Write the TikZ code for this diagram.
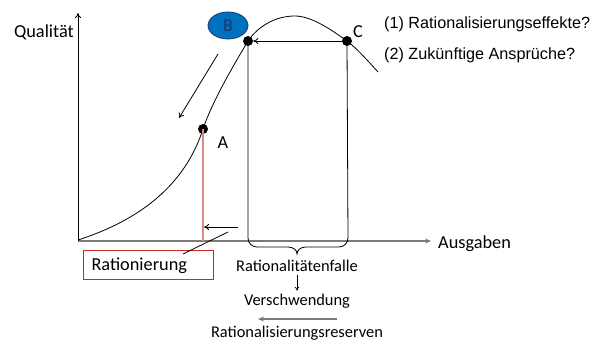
\documentclass[tikz,border=0pt]{standalone}
\usepackage{fontspec}
\setmainfont{Carlito}
\newfontfamily\arialf{Liberation Sans}
\usetikzlibrary{shapes.geometric,arrows.meta}
\definecolor{bblue}{HTML}{0070C0}
\definecolor{bborder}{HTML}{1F3864}
\definecolor{boxred}{HTML}{C82828}
\definecolor{pinkred}{HTML}{D88A8A}
\definecolor{axgray}{HTML}{7A7A7A}
\tikzset{
  dotpt/.style={circle,fill=black,inner sep=0pt,minimum size=10pt},
  lbl/.style={font=\fontsize{18.3}{20}\selectfont,inner sep=0pt},
  smalllbl/.style={font=\fontsize{16.4}{18}\selectfont,inner sep=0pt},
  qlbl/.style={font=\arialf\fontsize{16.2}{19}\selectfont,inner sep=0pt,anchor=west},
  arr/.style={-{To[length=5pt,width=6pt]},line width=0.8pt},
  thin line/.style={line width=0.8pt},
}
\begin{document}
\begin{tikzpicture}[x=1pt,y=-1pt]
\useasboundingbox (0,0) rectangle (606,342);
% axes
\coordinate (O) at (78,241);
\coordinate (ytop) at (78,13);
\coordinate (xend) at (431,241);
\draw[axgray,line width=1.6pt,-{Stealth[length=6pt,width=5pt]}] (O) -- (xend);
\draw[line width=0.8pt,-{To[length=5pt,width=6pt]}] (O) -- (ytop);
\node[lbl,anchor=east] (ql) at (74,32) {Qualität};
\node[lbl,anchor=west] (aus) at (438,244) {Ausgaben};
% points
\node[dotpt] (P) at (248,41) {};
\node[dotpt] (C) at (347,41) {};
\node[dotpt] (A) at (203,129) {};
% curve
\draw[thin line] (78,240) .. controls (140,220) and (185,185) .. (A.center)
  .. controls (213,99) and (238,58) .. (P.center)
  .. controls (258,26.5) and (275,16) .. (295,16)
  .. controls (312,16) and (333,31) .. (C.center)
  .. controls (357,48.5) and (368,61) .. (378,72);
% vertical lines + brace
\draw[thin line] (P.center) -- (248,238) to[out=-90,in=180] (257,247) -- (288,247) to[out=0,in=90] (297,254) to[out=90,in=180] (306,247) -- (339,247) to[out=0,in=-90] (348,238) -- (C.center);
% arrow C -> P
\draw[arr] (C) -- (P);
% B ellipse
\node[ellipse,draw=bborder,fill=bblue,line width=0.8pt,minimum width=40pt,minimum height=27pt,inner sep=0pt,text=bborder,font=\fontsize{18}{20}\selectfont] (B) at (228,25.5) {B};
% diagonal arrow
\coordinate (d1) at (218,54);
\coordinate (d2) at (179,118);
\draw[arr] (d1) -- (d2);
% labels
\node[lbl] (Al) at (223,143) {A};
\node[lbl] (Cl) at (358,32) {C};
% red line
\draw[pinkred,line width=1.4pt] (A.center) -- (A.center |- O);
% small arrow
\coordinate (s1) at (238,227);
\coordinate (s2) at (204,227);
\draw[arr] (s1) -- (s2);
% Rationierung box
\node[draw=boxred,line width=1pt,anchor=west,text width=114pt,inner xsep=8pt,inner ysep=0pt,align=left,minimum height=29pt,font=\fontsize{18.3}{20}\selectfont] (R) at (83,265.5) {Rationierung};
\coordinate (l1) at (228,232);
\coordinate (l2) at (183,254);
\draw[thin line] (l1) -- (l2);
% bottom texts
\node[smalllbl] (rf) at (297,266) {Rationalitätenfalle};
\node[smalllbl] (vs) at (297,301) {Verschwendung};
\node[smalllbl] (rr) at (297,333.5) {Rationalisierungsreserven};
\draw[line width=0.6pt,-{To[length=4pt,width=5pt]}] ([yshift=-3pt]rf.south) -- ([yshift=3pt]vs.north);
\coordinate (g1) at (337,319);
\coordinate (g2) at (258,319);
\draw[axgray,line width=1.4pt,-{Stealth[length=6pt,width=5pt]}] (g1) -- (g2);
% questions
\node[qlbl] (q1) at (384,24) {(1) Rationalisierungseffekte?};
\node[qlbl] (q2) at (384,55) {(2) Zukünftige Ansprüche?};
\end{tikzpicture}
\end{document}
